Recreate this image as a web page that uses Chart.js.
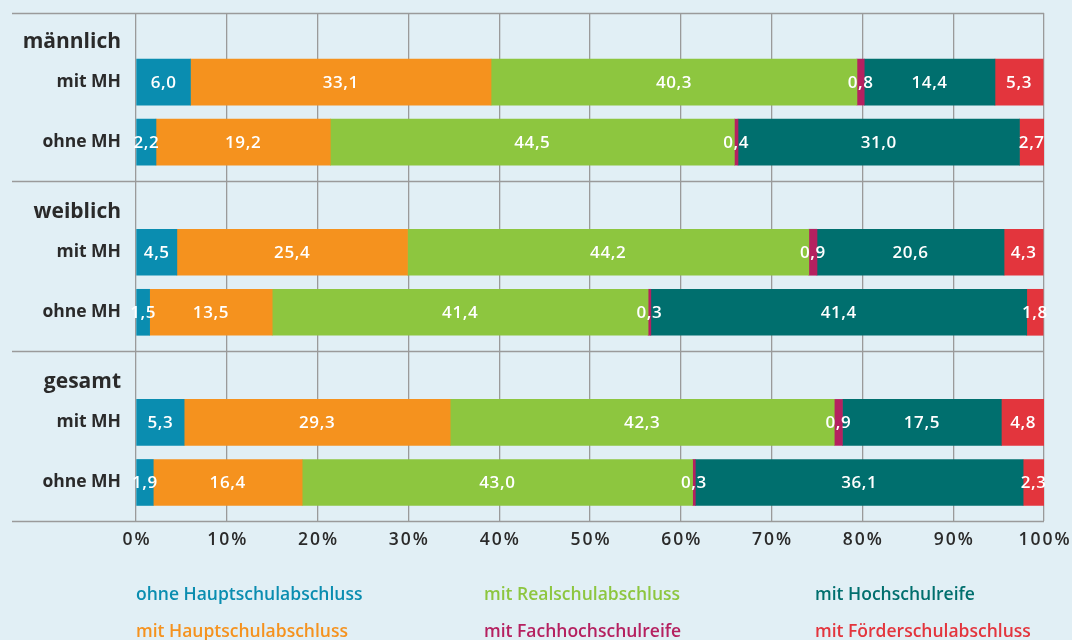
<!DOCTYPE html>
<html><head><meta charset="utf-8">
<script src="https://cdn.jsdelivr.net/npm/chart.js@4.4.1/dist/chart.umd.min.js"></script>
<style>
html,body{margin:0;padding:0;background:#e1eff5;}
#wrap{width:1072px;height:640px;position:relative;}
</style></head>
<body><div id="wrap"><canvas id="c" width="1072" height="640"></canvas></div>
<script>
// ---- data ----
const groups = ["männlich", "weiblich", "gesamt"];
const rowLabels = ["mit MH", "ohne MH"];
const seriesNames = ["ohne Hauptschulabschluss", "mit Hauptschulabschluss", "mit Realschulabschluss", "mit Fachhochschulreife", "mit Hochschulreife", "mit Förderschulabschluss"];
// rows order: männlich mit, männlich ohne, weiblich mit, weiblich ohne, gesamt mit, gesamt ohne
const ohneHauptschul = [6.0, 2.2, 4.5, 1.5, 5.3, 1.9];
const mitHauptschul  = [33.1, 19.2, 25.4, 13.5, 29.3, 16.4];
const mitRealschul   = [40.3, 44.5, 44.2, 41.4, 42.3, 43.0];
const mitFachhoch    = [0.8, 0.4, 0.9, 0.3, 0.9, 0.3];
const mitHochschul   = [14.4, 31.0, 20.6, 41.4, 17.5, 36.1];
const mitFoerder     = [5.3, 2.7, 4.3, 1.8, 4.8, 2.3];
const xTicks = [0,10,20,30,40,50,60,70,80,90,100];

const colors = ["#0a8db0", "#f5921e", "#8dc63f", "#b52160", "#006f6e", "#e3353d"];
const seriesValues = [ohneHauptschul, mitHauptschul, mitRealschul, mitFachhoch, mitHochschul, mitFoerder];

// ---- layout of the index axis (group blocks) ----
const GROUP = 170, HEAD = 31, ROW1 = 71.5, ROW2 = 131.5;
const rowPos = [];
groups.forEach((g, gi) => { rowPos.push(gi*GROUP + ROW1, gi*GROUP + ROW2); });
const tickPos = [], tickText = [], tickIsHead = [];
groups.forEach((g, gi) => {
  tickPos.push(gi*GROUP + HEAD); tickText.push(g); tickIsHead.push(true);
  rowLabels.forEach((r, ri) => { tickPos.push(gi*GROUP + (ri ? ROW2 : ROW1)); tickText.push(r); tickIsHead.push(false); });
});

const datasets = seriesNames.map((name, si) => ({
  label: name,
  data: seriesValues[si].map((v, i) => ({x: v, y: rowPos[i]})),
  backgroundColor: colors[si],
  borderWidth: 0,
  barThickness: 46
}));

const FONT = "'Open Sans', sans-serif";

const decor = {
  id: 'decor',
  beforeDatasetsDraw(chart) {
    const {ctx, chartArea, scales} = chart;
    ctx.save();
    ctx.strokeStyle = '#9a9a9a';
    ctx.lineWidth = 1.3;
    const ys = [scales.y.min];
    groups.forEach((g, gi) => ys.push((gi+1)*GROUP));
    ys.forEach(v => {
      const y = Math.round(scales.y.getPixelForValue(v)) + 0.5;
      ctx.beginPath(); ctx.moveTo(12, y); ctx.lineTo(chartArea.right, y); ctx.stroke();
    });
    ctx.restore();
  },
  afterDatasetsDraw(chart) {
    const {ctx} = chart;
    ctx.save();
    ctx.fillStyle = '#ffffff';
    ctx.font = "600 17px " + FONT;
    ctx.letterSpacing = '0.6px';
    ctx.textAlign = 'center';
    ctx.textBaseline = 'middle';
    chart.data.datasets.forEach((ds, di) => {
      const meta = chart.getDatasetMeta(di);
      meta.data.forEach((bar, i) => {
        const v = ds.data[i].x;
        const cx = (bar.x + bar.base) / 2;
        ctx.fillText(v.toFixed(1).replace('.', ','), cx, bar.y + 1);
      });
    });
    ctx.restore();
  },
  afterDraw(chart) {
    const {ctx, scales, chartArea} = chart;
    ctx.save();
    // x tick labels
    ctx.font = "600 17.5px " + FONT;
    ctx.letterSpacing = '2px';
    ctx.fillStyle = '#2a2a2a';
    ctx.textAlign = 'center';
    ctx.textBaseline = 'middle';
    xTicks.forEach(v => {
      ctx.fillText(v + '%', scales.x.getPixelForValue(v) + 1, chartArea.bottom + 19);
    });
    // legend
    const colX = [136, 484, 815];
    const rowY = [595, 632];
    ctx.font = "600 17.5px " + FONT;
    ctx.letterSpacing = '0px';
    ctx.textAlign = 'left';
    seriesNames.forEach((n, i) => {
      ctx.fillStyle = colors[i];
      ctx.fillText(n, colX[Math.floor(i/2)], rowY[i%2]);
    });
    ctx.restore();
  }
};

new Chart(document.getElementById('c'), {
  type: 'bar',
  data: { datasets },
  options: {
    indexAxis: 'y',
    responsive: false,
    animation: false,
    layout: { padding: { top: 13, right: 28, left: 0, bottom: 0 } },
    plugins: { legend: { display: false }, tooltip: { enabled: false } },
    scales: {
      x: {
        type: 'linear', stacked: true, min: 0, max: 100,
        border: { display: false },
        grid: { color: '#9a9a9a', lineWidth: 1.3, drawTicks: false },
        afterBuildTicks: s => { s.ticks = xTicks.map(v => ({value: v})); },
        afterFit: s => { s.height = 119; s.paddingLeft = 0; s.paddingRight = 0; },
        ticks: { display: false }
      },
      y: {
        type: 'linear', stacked: true, reverse: true, offset: false,
        min: 2.5, max: groups.length*GROUP,
        border: { display: false },
        grid: { display: false, drawTicks: false },
        afterBuildTicks: s => { s.ticks = tickPos.map(v => ({value: v})); },
        afterFit: s => { s.width = 136; s.paddingTop = 0; s.paddingBottom = 0; },
        ticks: {
          autoSkip: false, padding: 15, color: '#2a2a2a',
          font: ctx => tickIsHead[ctx.index] ? { family: FONT, size: 21, weight: 'bold' } : { family: FONT, size: 17.5, weight: 'bold' },
          callback: (v, i) => tickText[i]
        }
      }
    }
  },
  plugins: [decor]
});
</script></body></html>
